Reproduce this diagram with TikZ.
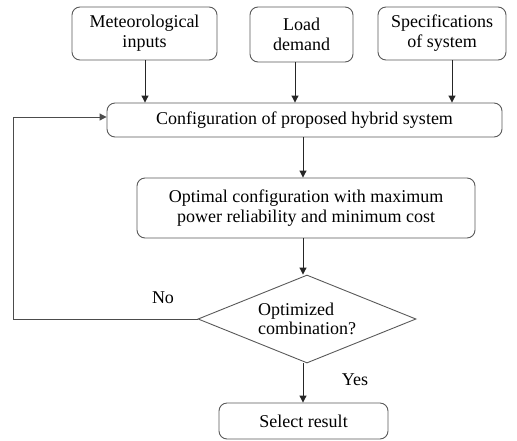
\documentclass[tikz,border=0pt]{standalone}
\usepackage{fontspec}
\setmainfont{Liberation Serif}
\usetikzlibrary{arrows.meta,shapes.geometric}
\begin{document}
\begin{tikzpicture}[x=1pt,y=-1pt,
  box/.style={draw=black!65,line width=0.9pt,rounded corners=8pt,align=center,font=\fontsize{18}{20}\selectfont,inner sep=0pt},
  dec/.style={draw=black!65,line width=0.9pt,diamond,aspect=2.48,align=left,font=\fontsize{18}{18.5}\selectfont,inner sep=0pt,minimum width=218pt,minimum height=88pt},
  arr/.style={-{Triangle[width=7pt,length=7pt]},line width=1pt,black!85},
  lbl/.style={font=\fontsize{18}{20}\selectfont}]
\useasboundingbox (0,0) rectangle (517,440);
\node[box,minimum width=145pt,minimum height=53pt] (met) at (144.5,33.5) {Meteorological\\inputs};
\node[box,minimum width=103pt,minimum height=55pt] (load) at (301.5,34.5) {Load\\demand};
\node[box,minimum width=128pt,minimum height=53pt] (spec) at (442,33.5) {Specifications\\of system};
\node[box,minimum width=395pt,minimum height=34pt] (conf) at (304.5,120) {Configuration of proposed hybrid system};
\node[box,minimum width=338pt,minimum height=60pt] (opt) at (306,208) {Optimal configuration with maximum\\power reliability and minimum cost};
\node[dec] (dec) at (307,319) {Optimized\\combination?};
\node[box,minimum width=169pt,minimum height=36pt] (sel) at (303.5,421) {Select result};
\coordinate (c1) at (145,0);
\coordinate (c2) at (295,0);
\coordinate (c3) at (452,0);
\draw[arr] (met.south -| c1) -- (conf.north -| c1);
\draw[arr] (load.south -| c2) -- (conf.north -| c2);
\draw[arr] (spec.south -| c3) -- (conf.north -| c3);
\coordinate (m) at (303,0);
\draw[arr] (conf.south -| m) -- (opt.north -| m);
\draw[arr] (opt.south -| m) -- (dec.north -| m);
\draw[arr] (dec.south -| m) -- (sel.north -| m);
\coordinate (fb) at (13,117);
\draw[arr,black!70] (dec.west) -| (fb) -- (conf.west |- fb);
\node[lbl] (no) at (163,298) {No};
\node[lbl] (yes) at (355,380) {Yes};
\end{tikzpicture}
\end{document}
